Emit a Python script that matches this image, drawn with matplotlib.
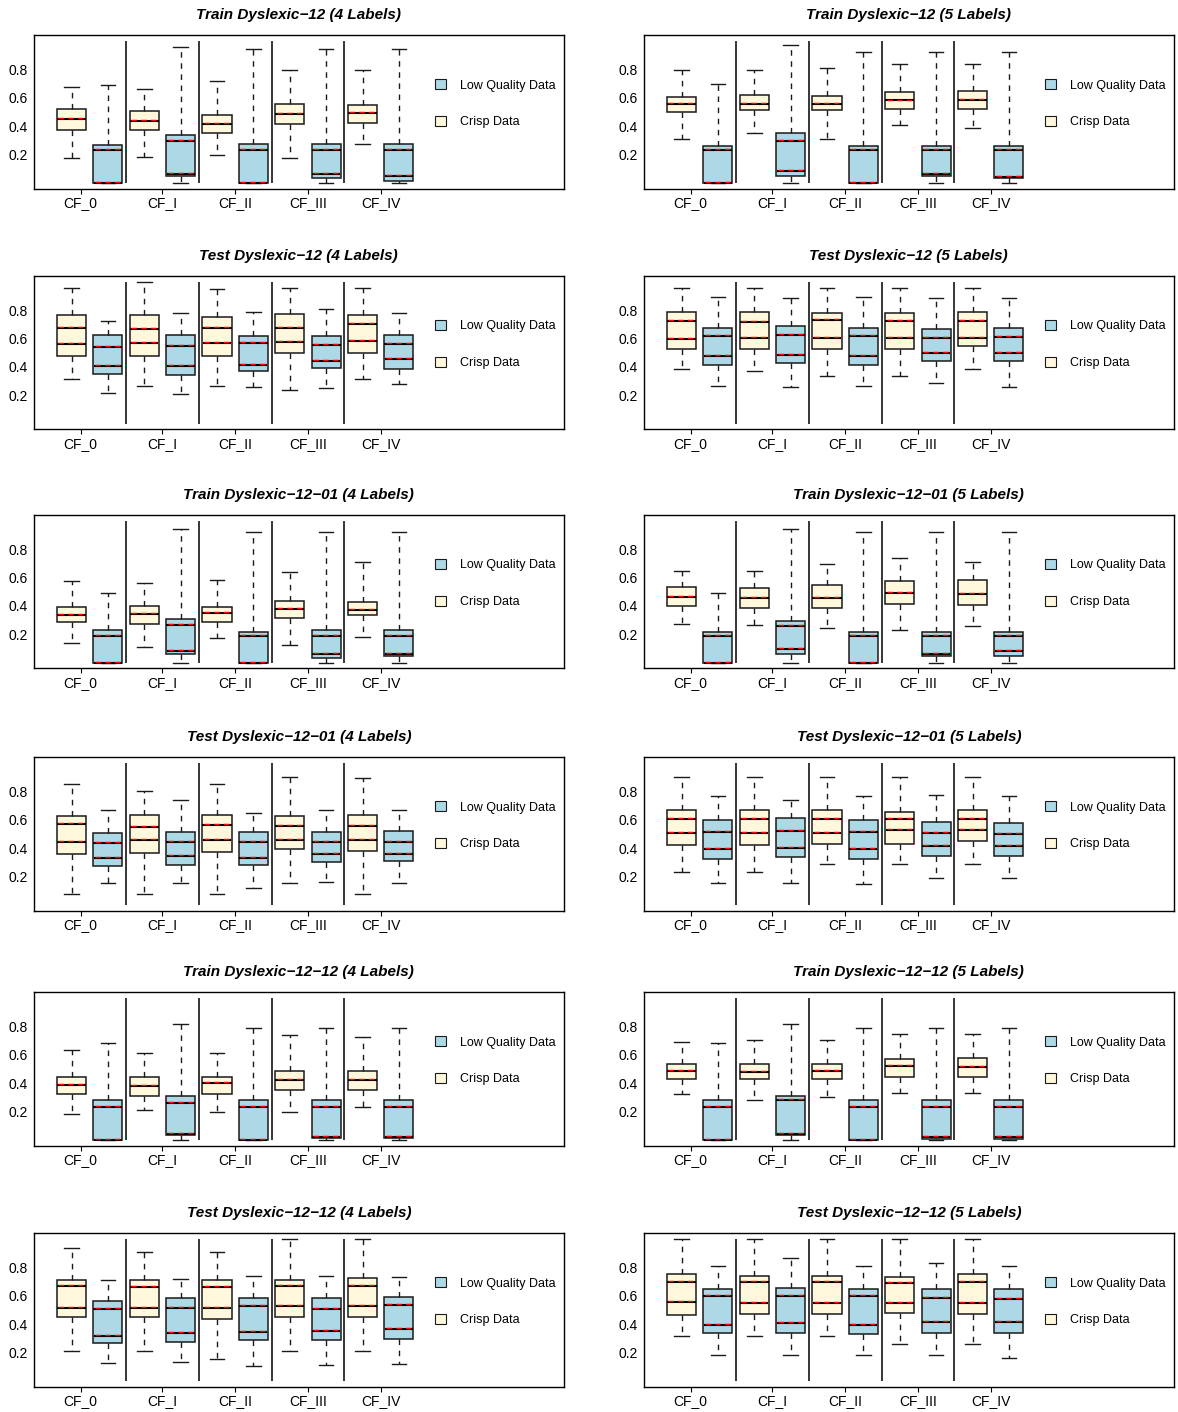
import matplotlib
matplotlib.use("Agg")
import matplotlib.pyplot as plt
from matplotlib.patches import Patch

plt.rcParams['font.family'] = ['Liberation Sans', 'DejaVu Sans']

groups = ['CF_0', 'CF_I', 'CF_II', 'CF_III', 'CF_IV']

# each row: lower whisker, q1, lower inner line, upper inner line, q3, upper whisker
train12_4_crisp = [[0.176, 0.376, 0.449, 0.449, 0.520, 0.678],
                   [0.183, 0.376, 0.435, 0.435, 0.506, 0.659],
                   [0.195, 0.355, 0.419, 0.419, 0.482, 0.718],
                   [0.176, 0.414, 0.489, 0.489, 0.558, 0.793],
                   [0.273, 0.424, 0.496, 0.496, 0.546, 0.793]]
train12_4_lq = [[0.0, 0.0, 0.0, 0.235, 0.268, 0.690],
                [0.0, 0.049, 0.064, 0.294, 0.341, 0.955],
                [0.0, 0.0, 0.0, 0.235, 0.278, 0.941],
                [0.0, 0.033, 0.066, 0.235, 0.278, 0.941],
                [0.0, 0.016, 0.049, 0.235, 0.278, 0.941]]

train12_5_crisp = [[0.308, 0.501, 0.555, 0.555, 0.609, 0.795],
                   [0.355, 0.513, 0.553, 0.553, 0.619, 0.795],
                   [0.308, 0.511, 0.555, 0.555, 0.612, 0.810],
                   [0.409, 0.522, 0.581, 0.581, 0.638, 0.840],
                   [0.386, 0.518, 0.588, 0.588, 0.649, 0.840]]
train12_5_lq = [[0.0, 0.0, 0.0, 0.235, 0.264, 0.694],
                [0.0, 0.052, 0.087, 0.294, 0.355, 0.972],
                [0.0, 0.0, 0.0, 0.235, 0.264, 0.922],
                [0.0, 0.047, 0.066, 0.235, 0.264, 0.922],
                [0.0, 0.032, 0.045, 0.235, 0.264, 0.922]]

test12_4_crisp = [[0.318, 0.478, 0.558, 0.675, 0.767, 0.953],
                  [0.264, 0.478, 0.567, 0.666, 0.762, 1.000],
                  [0.264, 0.478, 0.565, 0.673, 0.751, 0.948],
                  [0.240, 0.501, 0.572, 0.675, 0.769, 0.953],
                  [0.318, 0.501, 0.581, 0.701, 0.765, 0.953]]
test12_4_lq = [[0.216, 0.351, 0.407, 0.539, 0.628, 0.722],
               [0.212, 0.341, 0.409, 0.544, 0.624, 0.779],
               [0.259, 0.369, 0.416, 0.565, 0.621, 0.788],
               [0.249, 0.391, 0.445, 0.553, 0.616, 0.805],
               [0.282, 0.388, 0.454, 0.560, 0.624, 0.779]]

test12_5_crisp = [[0.384, 0.527, 0.595, 0.725, 0.784, 0.953],
                  [0.369, 0.527, 0.602, 0.715, 0.784, 0.953],
                  [0.334, 0.527, 0.602, 0.729, 0.781, 0.953],
                  [0.334, 0.527, 0.605, 0.720, 0.779, 0.953],
                  [0.384, 0.548, 0.602, 0.725, 0.784, 0.953]]
test12_5_lq = [[0.266, 0.416, 0.480, 0.621, 0.673, 0.892],
               [0.261, 0.426, 0.485, 0.626, 0.685, 0.885],
               [0.266, 0.414, 0.480, 0.621, 0.673, 0.892],
               [0.289, 0.445, 0.496, 0.607, 0.666, 0.885],
               [0.261, 0.445, 0.496, 0.614, 0.671, 0.885]]

train1201_4_crisp = [[0.141, 0.285, 0.334, 0.334, 0.393, 0.572],
                     [0.113, 0.273, 0.341, 0.341, 0.398, 0.558],
                     [0.176, 0.289, 0.353, 0.353, 0.393, 0.579],
                     [0.127, 0.313, 0.379, 0.379, 0.438, 0.642],
                     [0.183, 0.334, 0.372, 0.372, 0.431, 0.706]]
train1201_4_lq = [[0.0, 0.0, 0.0, 0.186, 0.233, 0.494],
                  [0.0, 0.061, 0.080, 0.264, 0.311, 0.939],
                  [0.0, 0.0, 0.0, 0.188, 0.219, 0.922],
                  [0.0, 0.033, 0.064, 0.186, 0.233, 0.922],
                  [0.0, 0.045, 0.061, 0.186, 0.233, 0.922]]

train1201_5_crisp = [[0.273, 0.398, 0.466, 0.466, 0.532, 0.649],
                     [0.268, 0.386, 0.459, 0.459, 0.527, 0.649],
                     [0.245, 0.386, 0.459, 0.459, 0.546, 0.696],
                     [0.228, 0.412, 0.489, 0.489, 0.574, 0.734],
                     [0.259, 0.407, 0.485, 0.485, 0.579, 0.708]]
train1201_5_lq = [[0.0, 0.0, 0.0, 0.186, 0.216, 0.494],
                  [0.0, 0.061, 0.094, 0.261, 0.294, 0.939],
                  [0.0, 0.0, 0.0, 0.188, 0.216, 0.922],
                  [0.0, 0.047, 0.064, 0.186, 0.216, 0.922],
                  [0.0, 0.049, 0.080, 0.186, 0.216, 0.922]]

test1201_4_crisp = [[0.080, 0.362, 0.442, 0.567, 0.628, 0.852],
                    [0.080, 0.369, 0.459, 0.551, 0.633, 0.802],
                    [0.080, 0.372, 0.459, 0.560, 0.633, 0.852],
                    [0.158, 0.393, 0.459, 0.558, 0.628, 0.904],
                    [0.080, 0.379, 0.459, 0.553, 0.633, 0.894]]
test1201_4_lq = [[0.158, 0.278, 0.329, 0.435, 0.504, 0.671],
                 [0.155, 0.282, 0.346, 0.442, 0.511, 0.736],
                 [0.122, 0.282, 0.334, 0.447, 0.515, 0.647],
                 [0.165, 0.306, 0.360, 0.442, 0.513, 0.671],
                 [0.158, 0.308, 0.362, 0.442, 0.518, 0.666]]

test1201_5_crisp = [[0.235, 0.421, 0.504, 0.609, 0.668, 0.904],
                    [0.235, 0.424, 0.504, 0.609, 0.668, 0.904],
                    [0.287, 0.431, 0.504, 0.609, 0.668, 0.904],
                    [0.287, 0.431, 0.525, 0.605, 0.654, 0.904],
                    [0.287, 0.452, 0.525, 0.609, 0.668, 0.904]]
test1201_5_lq = [[0.158, 0.327, 0.393, 0.515, 0.598, 0.767],
                 [0.158, 0.336, 0.400, 0.522, 0.614, 0.736],
                 [0.151, 0.322, 0.393, 0.515, 0.598, 0.767],
                 [0.188, 0.348, 0.416, 0.506, 0.581, 0.774],
                 [0.188, 0.348, 0.419, 0.501, 0.576, 0.767]]

train1212_4_crisp = [[0.181, 0.325, 0.386, 0.386, 0.445, 0.635],
                     [0.212, 0.313, 0.381, 0.381, 0.442, 0.616],
                     [0.198, 0.327, 0.398, 0.398, 0.447, 0.616],
                     [0.195, 0.351, 0.421, 0.421, 0.487, 0.741],
                     [0.231, 0.351, 0.424, 0.424, 0.487, 0.722]]
train1212_4_lq = [[0.0, 0.0, 0.0, 0.233, 0.280, 0.680],
                  [0.0, 0.035, 0.045, 0.264, 0.311, 0.816],
                  [0.0, 0.0, 0.0, 0.235, 0.280, 0.786],
                  [0.0, 0.016, 0.024, 0.235, 0.280, 0.786],
                  [0.0, 0.012, 0.019, 0.235, 0.280, 0.786]]

train1212_5_crisp = [[0.322, 0.431, 0.485, 0.485, 0.536, 0.689],
                     [0.282, 0.431, 0.482, 0.482, 0.534, 0.706],
                     [0.306, 0.433, 0.489, 0.489, 0.536, 0.706],
                     [0.329, 0.445, 0.521, 0.521, 0.567, 0.744],
                     [0.329, 0.442, 0.515, 0.515, 0.574, 0.744]]
train1212_5_lq = [[0.0, 0.0, 0.0, 0.233, 0.280, 0.680],
                  [0.0, 0.035, 0.045, 0.282, 0.311, 0.816],
                  [0.0, 0.0, 0.0, 0.235, 0.280, 0.786],
                  [0.0, 0.005, 0.019, 0.235, 0.280, 0.786],
                  [0.0, 0.005, 0.019, 0.235, 0.280, 0.786]]

test1212_4_crisp = [[0.212, 0.452, 0.513, 0.666, 0.713, 0.936],
                    [0.212, 0.452, 0.511, 0.664, 0.708, 0.906],
                    [0.155, 0.438, 0.513, 0.664, 0.713, 0.906],
                    [0.212, 0.452, 0.525, 0.666, 0.713, 1.000],
                    [0.212, 0.452, 0.527, 0.666, 0.725, 1.000]]
test1212_4_lq = [[0.125, 0.271, 0.318, 0.506, 0.560, 0.713],
                 [0.132, 0.273, 0.339, 0.513, 0.581, 0.720],
                 [0.106, 0.287, 0.344, 0.527, 0.581, 0.736],
                 [0.115, 0.287, 0.353, 0.506, 0.581, 0.736],
                 [0.120, 0.296, 0.367, 0.532, 0.591, 0.729]]

test1212_5_crisp = [[0.318, 0.468, 0.555, 0.699, 0.751, 1.000],
                    [0.318, 0.475, 0.551, 0.699, 0.741, 1.000],
                    [0.318, 0.471, 0.546, 0.694, 0.741, 1.000],
                    [0.264, 0.480, 0.546, 0.689, 0.734, 1.000],
                    [0.264, 0.475, 0.548, 0.699, 0.751, 1.000]]
test1212_5_lq = [[0.186, 0.336, 0.393, 0.598, 0.649, 0.809],
                 [0.186, 0.336, 0.409, 0.602, 0.654, 0.864],
                 [0.186, 0.332, 0.393, 0.598, 0.649, 0.809],
                 [0.186, 0.339, 0.419, 0.584, 0.645, 0.828],
                 [0.165, 0.339, 0.416, 0.579, 0.645, 0.809]]

panels = [
    ("Train Dyslexic\u221212 (4 Labels)", train12_4_crisp, train12_4_lq),
    ("Train Dyslexic\u221212 (5 Labels)", train12_5_crisp, train12_5_lq),
    ("Test Dyslexic\u221212 (4 Labels)", test12_4_crisp, test12_4_lq),
    ("Test Dyslexic\u221212 (5 Labels)", test12_5_crisp, test12_5_lq),
    ("Train Dyslexic\u221212\u221201 (4 Labels)", train1201_4_crisp, train1201_4_lq),
    ("Train Dyslexic\u221212\u221201 (5 Labels)", train1201_5_crisp, train1201_5_lq),
    ("Test Dyslexic\u221212\u221201 (4 Labels)", test1201_4_crisp, test1201_4_lq),
    ("Test Dyslexic\u221212\u221201 (5 Labels)", test1201_5_crisp, test1201_5_lq),
    ("Train Dyslexic\u221212\u221212 (4 Labels)", train1212_4_crisp, train1212_4_lq),
    ("Train Dyslexic\u221212\u221212 (5 Labels)", train1212_5_crisp, train1212_5_lq),
    ("Test Dyslexic\u221212\u221212 (4 Labels)", test1212_4_crisp, test1212_4_lq),
    ("Test Dyslexic\u221212\u221212 (5 Labels)", test1212_5_crisp, test1212_5_lq),
]

CRISP = '#FFF8DC'
LQ = '#ADD8E6'
EDGE = '#1a1a1a'
W = 0.8


def draw_panel(ax, title, crisp, lq):
    stats, fills, inner = [], [], []
    for c, l in zip(crisp, lq):
        for row, col in ((c, CRISP), (l, LQ)):
            lo, q1, m_lo, m_hi, q3, hi = row
            stats.append(dict(whislo=lo, q1=q1, med=m_hi, q3=q3, whishi=hi, fliers=[]))
            fills.append(col)
            inner.append((m_lo, m_hi))
    pos = list(range(1, len(stats) + 1))
    bp = ax.bxp(stats, positions=pos, widths=W, capwidths=W / 2, patch_artist=True,
                boxprops=dict(edgecolor=EDGE, linewidth=1.1),
                whiskerprops=dict(color=EDGE, linestyle=(0, (4, 4)), linewidth=1),
                capprops=dict(color=EDGE, linewidth=1),
                medianprops=dict(color='black', linewidth=1.5))
    for patch, col in zip(bp['boxes'], fills):
        patch.set_facecolor(col)
    for p, (m_lo, m_hi) in zip(pos, inner):
        x0, x1 = p - W / 2 + 0.04, p + W / 2 - 0.04
        if m_lo != m_hi:
            ax.plot([x0, x1], [m_lo, m_lo], color='black', lw=1.5, zorder=3)
            vals = (m_lo, m_hi)
        else:
            vals = (m_hi,)
        for v in vals:
            ax.plot([x0, x1], [v + 0.007, v + 0.007], color='red', lw=1.0,
                    linestyle=(0, (4, 3)), zorder=4)

    ax.vlines([2.5, 4.5, 6.5, 8.5], 0, 1, color='black', lw=1.1)
    ax.set_xlim(-0.04, 14.54)
    ax.set_ylim(-0.04, 1.04)
    ax.set_yticks([0.2, 0.4, 0.6, 0.8])
    ax.set_yticklabels(['0.2', '0.4', '0.6', '0.8'])
    ax.set_xticks([1.25, 3.5, 5.5, 7.5, 9.5])
    ax.set_xticklabels(groups)
    ax.tick_params(axis='y', length=0, pad=4, labelsize=10)
    ax.tick_params(axis='x', length=3.5, pad=1.8, labelsize=10)
    for s in ax.spines.values():
        s.set_linewidth(1.0)
    ax.set_title(title, fontsize=11, fontweight='bold', fontstyle='italic', pad=11.5)

    handles = [Patch(facecolor=LQ, edgecolor=EDGE, linewidth=0.8),
               Patch(facecolor=CRISP, edgecolor=EDGE, linewidth=0.8)]
    ax.legend(handles, ['Low Quality Data', 'Crisp Data'], loc='upper left',
              bbox_to_anchor=(0.757, 0.712), frameon=False, fontsize=9,
              handlelength=0.85, handleheight=0.85, handletextpad=1.1,
              labelspacing=1.95, borderpad=0, borderaxespad=0)


fig = plt.figure(figsize=(11.78, 14.12), dpi=100)
FW, FH = 1178.0, 1412.0
row_tops = [35.3, 276.0, 515.0, 757.3, 992.3, 1233.3]
col_lefts = [33.7, 643.7]
ax_w, ax_h = 530.3, 153.4

for i, (title, crisp, lq) in enumerate(panels):
    r, c = divmod(i, 2)
    rect = [col_lefts[c] / FW, 1 - (row_tops[r] + ax_h) / FH, ax_w / FW, ax_h / FH]
    ax = fig.add_axes(rect)
    draw_panel(ax, title, crisp, lq)

fig.savefig('out.png', dpi=100)
